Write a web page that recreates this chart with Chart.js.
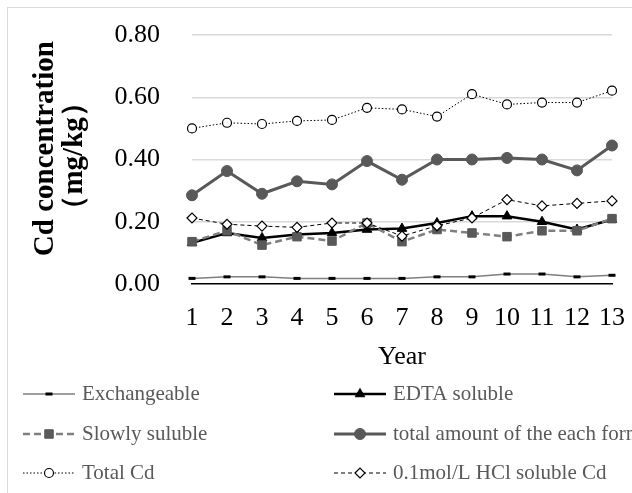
<!DOCTYPE html>
<html>
<head>
<meta charset="utf-8">
<script src="https://cdn.jsdelivr.net/npm/chart.js@4.4.1/dist/chart.umd.min.js"></script>
<style>
  html, body { margin: 0; padding: 0; background: #fff; }
  #wrap { position: relative; width: 632px; height: 493px; overflow: hidden; }
  #frame { position: absolute; left: 7px; top: 7px; width: 700px; height: 600px; border: 1px solid #d9d9d9; box-sizing: border-box; }
  canvas { position: absolute; left: 0; top: 0; }
</style>
</head>
<body>
<div id="wrap">
  <div id="frame"></div>
  <canvas id="cdChart" width="632" height="493"></canvas>
</div>
<script>
  // data
  const years = ['1', '2', '3', '4', '5', '6', '7', '8', '9', '10', '11', '12', '13'];
  const exchangeable = [0.018, 0.023, 0.023, 0.018, 0.018, 0.018, 0.018, 0.023, 0.023, 0.032, 0.032, 0.023, 0.028];
  const edtaSoluble = [0.132, 0.164, 0.148, 0.159, 0.164, 0.175, 0.178, 0.196, 0.218, 0.218, 0.200, 0.175, 0.207];
  const slowlySoluble = [0.136, 0.171, 0.125, 0.152, 0.138, 0.196, 0.136, 0.175, 0.164, 0.152, 0.171, 0.171, 0.210];
  const totalForms = [0.285, 0.363, 0.290, 0.330, 0.320, 0.395, 0.335, 0.400, 0.400, 0.405, 0.400, 0.365, 0.445];
  const totalCd = [0.500, 0.518, 0.514, 0.524, 0.527, 0.566, 0.561, 0.538, 0.610, 0.577, 0.583, 0.583, 0.621];
  const hclSoluble = [0.212, 0.192, 0.186, 0.182, 0.196, 0.196, 0.154, 0.187, 0.212, 0.271, 0.251, 0.259, 0.267];
  const yTicks = [0, 0.2, 0.4, 0.6, 0.8];

  const SERIF = '"Liberation Serif", "Times New Roman", serif';
  const NB = '\u00A0';

  // legend drawn like the office-style one: line + marker, two columns
  const gridLegend = {
    id: 'gridLegend',
    afterDraw(chart) {
      const ctx = chart.ctx;
      const colX = [23, 334];
      const rowY = [394, 434, 473];
      chart.data.datasets.forEach((ds, i) => {
        const x0 = colX[i % 2];
        const y = rowY[Math.floor(i / 2)];
        ctx.save();
        ctx.strokeStyle = ds.borderColor;
        ctx.lineWidth = ds.borderWidth;
        ctx.setLineDash(ds.borderDash || []);
        ctx.beginPath();
        ctx.moveTo(x0, y);
        ctx.lineTo(x0 + 52, y);
        ctx.stroke();
        ctx.setLineDash([]);
        ctx.fillStyle = ds.pointBackgroundColor;
        ctx.strokeStyle = ds.pointBorderColor;
        ctx.lineWidth = ds.pointBorderWidth;
        Chart.helpers.drawPoint(ctx, {
          pointStyle: ds.pointStyle,
          radius: ds.pointRadius,
          rotation: 0,
          borderWidth: ds.pointBorderWidth
        }, x0 + 26, y);
        ctx.fillStyle = '#595959';
        ctx.font = '21px ' + SERIF;
        ctx.textBaseline = 'middle';
        ctx.textAlign = 'left';
        ctx.fillText(ds.label, x0 + 59, y);
        ctx.restore();
      });
    }
  };

  const ctx = document.getElementById('cdChart');
  new Chart(ctx, {
    type: 'line',
    data: {
      labels: years,
      datasets: [
        {
          label: 'Exchangeable',
          data: exchangeable,
          borderColor: '#7f7f7f',
          borderWidth: 1.5,
          pointStyle: 'line',
          pointRadius: 3.5,
          pointBorderWidth: 3,
          pointBorderColor: '#000',
          pointBackgroundColor: '#000',
          order: 5
        },
        {
          label: 'EDTA soluble',
          data: edtaSoluble,
          borderColor: '#000',
          borderWidth: 2.5,
          pointStyle: 'triangle',
          pointRadius: 5.5,
          pointBorderWidth: 1,
          pointBorderColor: '#000',
          pointBackgroundColor: '#000',
          order: 4
        },
        {
          label: 'Slowly suluble',
          data: slowlySoluble,
          borderColor: '#7f7f7f',
          borderWidth: 2.5,
          borderDash: [7, 4],
          pointStyle: 'rect',
          pointRadius: 6,
          pointBorderWidth: 1,
          pointBorderColor: '#595959',
          pointBackgroundColor: '#595959',
          order: 3
        },
        {
          label: 'total amount of the each form',
          data: totalForms,
          borderColor: '#595959',
          borderWidth: 3,
          pointStyle: 'circle',
          pointRadius: 5.5,
          pointBorderWidth: 1,
          pointBorderColor: '#595959',
          pointBackgroundColor: '#595959',
          order: 2
        },
        {
          label: 'Total Cd',
          data: totalCd,
          borderColor: '#000',
          borderWidth: 1,
          borderDash: [1.5, 2],
          pointStyle: 'circle',
          pointRadius: 4.5,
          pointBorderWidth: 1.2,
          pointBorderColor: '#000',
          pointBackgroundColor: '#fff',
          order: 1
        },
        {
          label: '0.1mol/L HCl soluble Cd',
          data: hclSoluble,
          borderColor: '#000',
          borderWidth: 1,
          borderDash: [4, 3],
          pointStyle: 'rectRot',
          pointRadius: 5,
          pointBorderWidth: 1.2,
          pointBorderColor: '#000',
          pointBackgroundColor: '#fff',
          order: 0
        }
      ]
    },
    options: {
      responsive: false,
      animation: false,
      tension: 0,
      layout: {
        padding: { left: 0, top: 35, right: 20, bottom: 120 }
      },
      plugins: {
        legend: { display: false },
        tooltip: { enabled: false }
      },
      scales: {
        x: {
          // invisible tick marks give the label gap without widening the side padding
          grid: { display: false, drawTicks: true, tickLength: 19 },
          border: { display: true, color: '#000', width: 1.5 },
          ticks: {
            color: '#000',
            padding: 0,
            maxRotation: 0,
            autoSkip: false,
            font: { family: SERIF, size: 26 }
          },
          title: {
            display: true,
            text: 'Year',
            color: '#000',
            padding: 0,
            font: { family: SERIF, size: 26 }
          },
          afterFit(scale) {
            scale.height = 89;
          }
        },
        y: {
          min: 0,
          max: 0.8,
          afterBuildTicks(scale) {
            scale.ticks = yTicks.map(v => ({ value: v }));
          },
          grid: {
            drawTicks: true,
            tickLength: 32,
            tickColor: 'rgba(0,0,0,0)',
            color: c => (c.tick && c.tick.value === 0 ? 'rgba(0,0,0,0)' : '#d9d9d9'),
            lineWidth: 1.5
          },
          border: { display: false },
          ticks: {
            color: '#000',
            padding: 0,
            font: { family: SERIF, size: 26 },
            callback: v => Number(v).toFixed(2)
          },
          title: {
            display: true,
            text: [NB + NB + NB + 'Cd concentration', NB + '\uFF08mg/kg\uFF09'],
            color: '#000',
            padding: { top: 31, bottom: 0 },
            font: { family: SERIF, size: 29, weight: 'bold', lineHeight: 1.0 }
          },
          afterFit(scale) {
            scale.width = 192;
          }
        }
      }
    },
    plugins: [gridLegend]
  });
</script>
</body>
</html>
